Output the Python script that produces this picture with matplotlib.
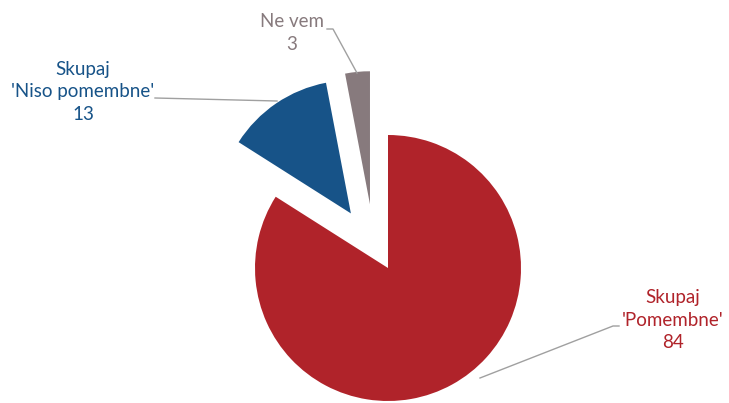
import matplotlib

matplotlib.use("Agg")
import matplotlib.pyplot as plt

# data
labels = ["Skupaj\n'Pomembne'\n84", "Skupaj\n'Niso pomembne'\n13", "Ne vem\n3"]
values = [84, 13, 3]
colors = ["#b0232a", "#175388", "#877a7d"]

W, H = 729, 403
cx, cy, r = 388, H - 268, 133
# pie() takes explode in data units, here pixels
explode = [0, 66, 64]

fig = plt.figure(figsize=(W / 100, H / 100), dpi=100)
ax = fig.add_axes([0, 0, 1, 1])

wedges, _ = ax.pie(values, colors=colors, explode=explode, startangle=90,
                   counterclock=False, center=(cx, cy), radius=r,
                   wedgeprops=dict(linewidth=0))
# grey slice sits a little further left in the original
gx, gy = wedges[2].center
wedges[2].set_center((gx - 12, gy))

# pie() rescales the axes, so fix the limits afterwards
ax.set_xlim(0, W)
ax.set_ylim(0, H)
ax.set_aspect("equal")
ax.axis("off")

line_kw = dict(color="#a0a0a0", linewidth=1.0)
font = dict(family="Lato", fontsize=13.5, ha="center", va="center", linespacing=1.4)

# leader lines (pixel coordinates, y from top)
ax.plot([480, 613, 619], [H - 378, H - 326, H - 326], **line_kw)
ax.plot([155, 277], [H - 98, H - 101], **line_kw)
ax.plot([327, 333, 357], [H - 29, H - 29, H - 73], **line_kw)

ax.text(673, H - 320, labels[0], color=colors[0], **font)
ax.text(83, H - 92, labels[1], color=colors[1], **font)
ax.text(292, H - 33, labels[2], color=colors[2], **font)

fig.savefig("out.png", dpi=100)
